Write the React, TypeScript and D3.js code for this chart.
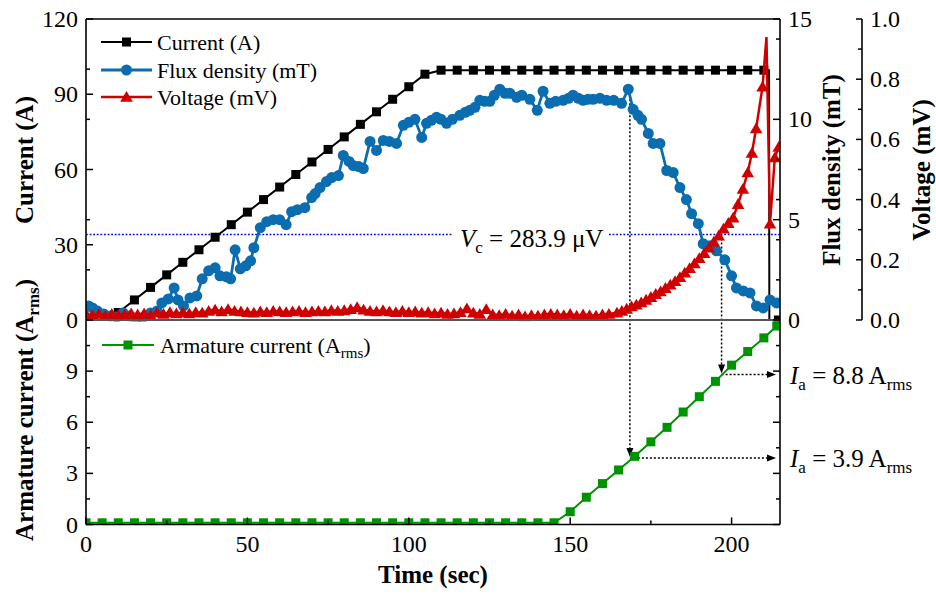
import React from 'react';
import * as d3 from 'd3';

// ---------------- data ----------------
const TIME_TICKS = [0, 50, 100, 150, 200];
const CURRENT_TICKS = [0, 30, 60, 90, 120];
const FLUX_TICKS = [0, 5, 10, 15];
const VOLT_TICKS = [0, 0.2, 0.4, 0.6, 0.8, 1.0];
const ARM_TICKS = [0, 3, 6, 9];

const CURRENT_T = [10, 15, 20, 25, 30, 35, 40, 45, 50, 55, 60, 65, 70, 75, 80, 85, 90, 95, 100, 105,
  110, 115, 120, 125, 130, 135, 140, 145, 150, 155, 160, 165, 170, 175, 180, 185, 190, 195, 200, 205, 210,
  211.6, 211.7, 214.5];
const CURRENT_V = [3, 8, 13, 18, 23, 28, 33, 38, 43, 48, 53, 58, 63, 68, 73, 78, 83, 88, 93, 98,
  99.6, 99.6, 99.6, 99.6, 99.6, 99.6, 99.6, 99.6, 99.6, 99.6, 99.6, 99.6, 99.6, 99.6, 99.6, 99.6, 99.6, 99.6, 99.6, 99.6, 99.6,
  99.6, 0, 0];
const CURRENT_UNMARKED = [41, 42];

const FLUX_T = [0.8, 2, 3.5, 5.5, 7.5, 9.5, 11.5, 13.5, 15.5, 17.5, 20, 22, 23.5, 25.5, 27.3, 28.5, 30.2, 32.2, 34.3, 36,
  38, 40, 41.5, 43.5, 44.8, 46.2, 47.8, 49.5, 51, 52, 54, 56, 58, 60, 62, 63.7, 65.5, 67.8, 69.9, 71,
  72.5, 74.5, 76.1, 78.2, 79.7, 81.5, 82.8, 84.5, 85.9, 88, 90, 92.1, 94, 96.2, 98.3, 100, 101.9, 104, 105.5, 107,
  108.6, 110, 111.7, 113.5, 115.8, 117.5, 118.9, 120.5, 122, 123.5, 125.1, 126.5, 128.2, 129.8, 131.3, 133.4, 135, 137.5, 139.8, 141.6,
  143.7, 145.5, 147.8, 149.5, 150.9, 152.5, 154, 155.5, 157.1, 159.2, 161.3, 163.5, 165.9, 168, 169.5, 171, 172.1, 174.2, 175.7, 177.8,
  179.9, 181.9, 184, 186, 187.6, 189.7, 191.2, 193.3, 195.3, 197.9, 200, 201.5, 203.6, 205.7, 207.7, 209.8, 211.9, 213.9];
const FLUX_V = [0.7, 0.6, 0.45, 0.3, 0.2, 0.15, 0.35, 0.2, 0.05, 0.1, 0.35, 0.45, 0.85, 1.05, 1.6, 1.0, 0.7, 1.1, 1.2, 2.05,
  2.45, 2.6, 2.2, 2.15, 2.05, 3.5, 2.55, 2.7, 2.95, 3.6, 4.6, 4.9, 5.0, 5.0, 4.75, 5.4, 5.5, 5.6, 6.1, 6.3,
  6.6, 6.9, 7.1, 7.2, 8.2, 7.9, 7.7, 7.65, 7.55, 8.9, 8.45, 8.95, 8.9, 8.8, 9.7, 9.85, 10.0, 9.1, 9.8, 9.95,
  10.1, 10.0, 9.8, 10.0, 10.2, 10.35, 10.45, 10.6, 10.95, 10.9, 10.9, 11.2, 11.5, 11.3, 11.3, 11.1, 11.2, 11.0, 10.45, 11.4,
  10.8, 10.9, 10.95, 11.05, 11.2, 11.05, 10.95, 11.0, 11.0, 11.05, 10.95, 10.95, 10.8, 11.5, 10.5, 10.2, 10.0, 9.3, 8.8, 8.8,
  7.45, 7.35, 6.6, 6.0, 5.3, 4.8, 3.8, 3.7, 3.45, 3.0, 2.2, 1.6, 1.45, 1.35, 0.7, 0.6, 1.0, 0.85];

const VOLT_T = [0, 2, 4, 6, 8, 10, 12, 14, 16, 18, 20, 22, 24, 26, 28, 30, 32, 34, 36, 38,
  40, 42, 44, 46, 48, 50, 52, 54, 56, 58, 60, 62, 64, 66, 68, 70, 72, 74, 76, 78,
  80, 82, 84, 86, 88, 90, 92, 94, 96, 98, 100, 102, 104, 106, 108, 110, 112, 114, 116, 118,
  120, 122, 124, 126, 128, 130, 132, 134, 136, 138, 140, 142, 144, 146, 148, 150, 152, 154, 156, 158,
  160, 162, 164.5, 166, 167.5, 169, 170.5, 172, 173.5, 175, 176.5, 178, 179.5, 181, 182.5, 184, 185.5, 187, 188.5, 190,
  191.5, 193, 194.5, 196, 197.5, 199, 200.5, 202, 203.5, 205, 206.3, 207.6, 209.6, 210.8, 211.9, 213.4, 214.6];
const VOLT_V = [0.02, 0.016, 0.02, 0.014, 0.02, 0.016, 0.018, 0.022, 0.018, 0.022, 0.016, 0.024, 0.02, 0.026, 0.022, 0.025, 0.022, 0.026, 0.024, 0.03,
  0.034, 0.028, 0.036, 0.03, 0.028, 0.026, 0.024, 0.028, 0.026, 0.03, 0.028, 0.026, 0.028, 0.03, 0.026, 0.028, 0.03, 0.028, 0.032, 0.03,
  0.032, 0.036, 0.042, 0.034, 0.03, 0.028, 0.032, 0.028, 0.026, 0.03, 0.026, 0.028, 0.024, 0.026, 0.022, 0.024, 0.02, 0.022, 0.026, 0.038,
  0.024, 0.02, 0.036, 0.018, 0.016, 0.02, 0.014, 0.018, 0.012, 0.016, 0.014, 0.018, 0.02, 0.018, 0.016, 0.02, 0.014, 0.018, 0.016, 0.014,
  0.018, 0.02, 0.024, 0.03, 0.037, 0.045, 0.051, 0.058, 0.067, 0.076, 0.086, 0.095, 0.106, 0.117, 0.129, 0.142, 0.157, 0.172, 0.188, 0.205,
  0.222, 0.24, 0.26, 0.28, 0.303, 0.322, 0.34, 0.385, 0.435, 0.49, 0.555, 0.636, 0.775, 0.94, 0.32, 0.54, 0.575];
const VOLT_UNMARKED = [113];

const ARM_T = [0, 5, 10, 15, 20, 25, 30, 35, 40, 45, 50, 55, 60, 65, 70, 75, 80, 85, 90, 95,
  100, 105, 110, 115, 120, 125, 130, 135, 140, 145, 150, 155, 160, 165, 170, 175, 180, 185, 190, 195,
  200, 205, 210, 214];
const ARM_V = [0.1, 0.1, 0.1, 0.1, 0.1, 0.1, 0.1, 0.1, 0.1, 0.1, 0.1, 0.1, 0.1, 0.1, 0.1, 0.1, 0.1, 0.1, 0.1, 0.1,
  0.1, 0.1, 0.1, 0.1, 0.1, 0.1, 0.1, 0.1, 0.1, 0.1, 0.75, 1.6, 2.4, 3.2, 4.0, 4.85, 5.7, 6.6, 7.5, 8.4,
  9.35, 10.15, 10.95, 11.65];

const VC = 0.2839; // mV
const ANN1 = { t: 168.5, flux: 11.5, ia: 3.9, label: '3.9' };
const ANN2 = { t: 196.9, ia: 8.8, label: '8.8' };

// ---------------- layout ----------------
const L = 86, R = 780, T = 19, M = 320, B = 524.5;
const VX = 862;
const FONT = "'Times New Roman', 'Liberation Serif', serif";
const BLUE = '#0a6db0';
const RED = '#d00000';
const GREEN = '#009300';

const x = d3.scaleLinear().domain([0, 215]).range([L, R]);
const yCur = d3.scaleLinear().domain([0, 120]).range([M, T]);
const yFlux = d3.scaleLinear().domain([0, 15]).range([M, T]);
const yVolt = d3.scaleLinear().domain([0, 1]).range([M, T]);
const yArm = d3.scaleLinear().domain([0, 12]).range([B, M]);

const tri = 'M0,-6L6.3,4.8L-6.3,4.8Z';

function Square({ cx, cy, color }: { cx: number; cy: number; color: string }) {
  return <rect x={cx - 4.5} y={cy - 4.5} width={9} height={9} fill={color} />;
}

export default function App() {
  const zip = (ts: number[], vs: number[]) => ts.map((t, i) => [t, vs[i]] as [number, number]);
  const cur = zip(CURRENT_T, CURRENT_V);
  const flux = zip(FLUX_T, FLUX_V);
  const volt = zip(VOLT_T, VOLT_V);
  const arm = zip(ARM_T, ARM_V);

  const lineCur = d3.line<[number, number]>().x(d => x(d[0])).y(d => yCur(d[1]));
  const lineFlux = d3.line<[number, number]>().x(d => x(d[0])).y(d => yFlux(d[1]));
  const lineVolt = d3.line<[number, number]>().x(d => x(d[0])).y(d => yVolt(d[1]));
  const lineArm = d3.line<[number, number]>().x(d => x(d[0])).y(d => yArm(d[1]));

  const curMinor = yCur.ticks(8).filter(v => !CURRENT_TICKS.includes(v));
  const fluxMinor = yFlux.ticks(6).filter(v => !FLUX_TICKS.includes(v));
  const voltMinor = yVolt.ticks(10).filter(v => !VOLT_TICKS.some(m => Math.abs(m - v) < 1e-9));
  const armMinor = [1.5, 4.5, 7.5, 10.5];
  const timeMinor = [25, 75, 125, 175];

  const yv = yVolt(VC);
  const x1 = x(ANN1.t), x2 = x(ANN2.t);
  const ya1 = yArm(ANN1.ia), ya2 = yArm(ANN2.ia);

  const axisStroke = { stroke: '#000', strokeWidth: 1.6 };

  return (
    <svg width={936} height={598} style={{ position: 'absolute', left: 0, top: 0, background: '#fff' }} fontFamily={FONT}>
      <defs>
        <clipPath id="upper"><rect x={L} y={T} width={R - L} height={M - T + 1.5} /></clipPath>
        <clipPath id="lower"><rect x={L} y={M - 8} width={R - L} height={B - M + 8} /></clipPath>
      </defs>

      {/* reference lines */}
      <line x1={L} x2={452} y1={yv} y2={yv} stroke="#0000ff" strokeWidth={1.5} strokeDasharray="1.8 1.8" />
      <line x1={609} x2={R} y1={yv} y2={yv} stroke="#0000ff" strokeWidth={1.5} strokeDasharray="1.8 1.8" />

      {/* annotation dotted arrows */}
      <g stroke="#000" strokeWidth={1.5} strokeDasharray="2 2" fill="none">
        <line x1={x1} x2={x1} y1={yFlux(ANN1.flux) + 6} y2={ya1 - 8} />
        <line x1={x1} x2={R - 10} y1={ya1} y2={ya1} />
        <line x1={x2} x2={x2} y1={yv} y2={ya2 - 8} />
        <line x1={x2} x2={R - 10} y1={ya2} y2={ya2} />
      </g>
      <g fill="#000">
        <path d={`M${x1 - 3.5},${ya1 - 10}L${x1 + 3.5},${ya1 - 10}L${x1},${ya1 - 1}Z`} />
        <path d={`M${x2 - 3.5},${ya2 - 10}L${x2 + 3.5},${ya2 - 10}L${x2},${ya2 - 1}Z`} />
        <path d={`M${R - 13},${ya1 - 3.5}L${R - 13},${ya1 + 3.5}L${R - 4},${ya1}Z`} />
        <path d={`M${R - 13},${ya2 - 3.5}L${R - 13},${ya2 + 3.5}L${R - 4},${ya2}Z`} />
      </g>

      {/* upper series */}
      <g clipPath="url(#upper)">
        <path d={lineCur(cur) || ''} fill="none" stroke="#000" strokeWidth={2} />
        {cur.map((d, i) => CURRENT_UNMARKED.includes(i) ? null : <Square key={'c' + i} cx={x(d[0])} cy={yCur(d[1])} color="#000" />)}
        <path d={lineFlux(flux) || ''} fill="none" stroke={BLUE} strokeWidth={2.8} />
        {flux.map((d, i) => <circle key={'f' + i} cx={x(d[0])} cy={yFlux(d[1])} r={5.5} fill={BLUE} />)}
        <path d={lineVolt(volt) || ''} fill="none" stroke={RED} strokeWidth={2.5} />
        {volt.map((d, i) => VOLT_UNMARKED.includes(i) ? null : <path key={'v' + i} d={tri} transform={`translate(${x(d[0])},${yVolt(d[1])})`} fill={RED} />)}
      </g>

      {/* lower series */}
      <g clipPath="url(#lower)">
        <path d={lineArm(arm) || ''} fill="none" stroke={GREEN} strokeWidth={2} />
        {arm.map((d, i) => <Square key={'a' + i} cx={x(d[0])} cy={yArm(d[1])} color={GREEN} />)}
      </g>

      {/* frame */}
      <line x1={L} x2={R} y1={T} y2={T} {...axisStroke} />
      <line x1={L} x2={R} y1={M} y2={M} stroke="#555" strokeWidth={1.8} />
      <line x1={L} x2={R} y1={B} y2={B} {...axisStroke} />
      <line x1={L} x2={L} y1={T} y2={B} {...axisStroke} />
      <line x1={R} x2={R} y1={T} y2={B} {...axisStroke} />
      <line x1={VX} x2={VX} y1={T} y2={M} {...axisStroke} />

      {/* ticks */}
      <g stroke="#000" strokeWidth={1.5}>
        {CURRENT_TICKS.map(v => <line key={'lc' + v} x1={L} x2={L + 7} y1={yCur(v)} y2={yCur(v)} />)}
        {curMinor.map(v => <line key={'lcm' + v} x1={L} x2={L + 4} y1={yCur(v)} y2={yCur(v)} />)}
        {ARM_TICKS.map(v => <line key={'la' + v} x1={L} x2={L + 7} y1={yArm(v)} y2={yArm(v)} />)}
        {armMinor.map(v => <line key={'lam' + v} x1={L} x2={L + 4} y1={yArm(v)} y2={yArm(v)} />)}
        {FLUX_TICKS.map(v => <line key={'rf' + v} x1={R} x2={R - 7} y1={yFlux(v)} y2={yFlux(v)} />)}
        {fluxMinor.map(v => <line key={'rfm' + v} x1={R} x2={R - 4} y1={yFlux(v)} y2={yFlux(v)} />)}
        {ARM_TICKS.map(v => <line key={'ra' + v} x1={R} x2={R - 7} y1={yArm(v)} y2={yArm(v)} />)}
        {armMinor.map(v => <line key={'ram' + v} x1={R} x2={R - 4} y1={yArm(v)} y2={yArm(v)} />)}
        {VOLT_TICKS.map(v => <line key={'vt' + v} x1={VX} x2={VX - 6} y1={yVolt(v)} y2={yVolt(v)} />)}
        {voltMinor.map(v => <line key={'vtm' + v} x1={VX} x2={VX - 4} y1={yVolt(v)} y2={yVolt(v)} />)}
        {TIME_TICKS.map(v => <line key={'tt' + v} x1={x(v)} x2={x(v)} y1={B} y2={B - 7} />)}
        {timeMinor.map(v => <line key={'ttm' + v} x1={x(v)} x2={x(v)} y1={B} y2={B - 4} />)}
      </g>

      {/* tick labels */}
      <g fontSize={24} fill="#000">
        {CURRENT_TICKS.map(v => <text key={'lcl' + v} x={78} y={yCur(v) + 8} textAnchor="end">{v}</text>)}
        {ARM_TICKS.map(v => <text key={'lal' + v} x={78} y={yArm(v) + 8} textAnchor="end">{v}</text>)}
        {FLUX_TICKS.map(v => <text key={'rfl' + v} x={788} y={yFlux(v) + 8}>{v}</text>)}
        {VOLT_TICKS.map(v => <text key={'vtl' + v} x={870} y={yVolt(v) + 8}>{v.toFixed(1)}</text>)}
        {TIME_TICKS.map(v => <text key={'ttl' + v} x={x(v)} y={552} textAnchor="middle">{v}</text>)}
      </g>

      {/* axis titles */}
      <g fontSize={25} fontWeight="bold" fill="#000">
        <text x={(L + R) / 2} y={583} textAnchor="middle">Time (sec)</text>
        <text transform="translate(33,160) rotate(-90)" textAnchor="middle">Current (A)</text>
        <text transform="translate(33,410) rotate(-90)" textAnchor="middle">Armature current (A<tspan dy={6} fontSize={17}>rms</tspan><tspan dy={-6}>)</tspan></text>
        <text transform="translate(840,170) rotate(-90)" textAnchor="middle">Flux density (mT)</text>
        <text transform="translate(930,170) rotate(-90)" textAnchor="middle">Voltage (mV)</text>
      </g>

      {/* legend */}
      <g fontSize={22} fill="#000">
        <line x1={101} x2={152} y1={42} y2={42} stroke="#000" strokeWidth={2} />
        <Square cx={126.5} cy={42} color="#000" />
        <text x={157} y={50}>Current (A)</text>
        <line x1={101} x2={152} y1={70} y2={70} stroke={BLUE} strokeWidth={2.8} />
        <circle cx={126.5} cy={70} r={5.5} fill={BLUE} />
        <text x={157} y={78}>Flux density (mT)</text>
        <line x1={101} x2={152} y1={97} y2={97} stroke={RED} strokeWidth={2.5} />
        <path d={tri} transform="translate(126.5,97)" fill={RED} />
        <text x={157} y={105}>Voltage (mV)</text>
        <line x1={102} x2={154} y1={345} y2={345} stroke={GREEN} strokeWidth={2} />
        <Square cx={128} cy={345} color={GREEN} />
        <text x={160} y={353}>Armature current (A<tspan dy={5} fontSize={15}>rms</tspan><tspan dy={-5}>)</tspan></text>
      </g>

      {/* annotations */}
      <g fontSize={25} fill="#000">
        <text x={460} y={247}><tspan fontStyle="italic">V</tspan><tspan dy={6} fontSize={17}>c</tspan><tspan dy={-6}> = 283.9 μV</tspan></text>
        <text x={790} y={ya2 + 9}><tspan fontStyle="italic">I</tspan><tspan dy={6} fontSize={17}>a</tspan><tspan dy={-6}> = {ANN2.label} A</tspan><tspan dy={6} fontSize={17}>rms</tspan></text>
        <text x={790} y={ya1 + 9}><tspan fontStyle="italic">I</tspan><tspan dy={6} fontSize={17}>a</tspan><tspan dy={-6}> = {ANN1.label} A</tspan><tspan dy={6} fontSize={17}>rms</tspan></text>
      </g>
    </svg>
  );
}
